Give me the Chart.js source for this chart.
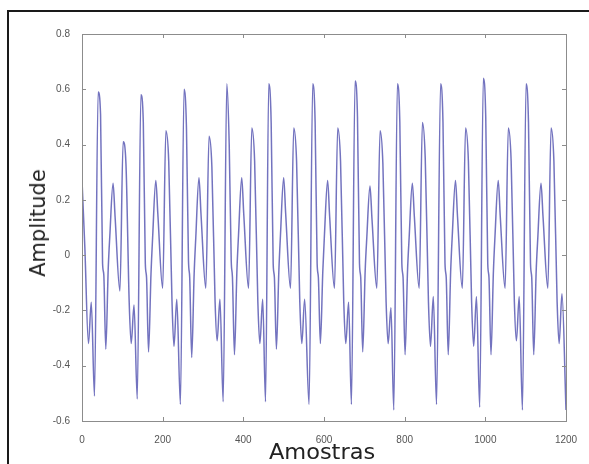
<!DOCTYPE html>
<html>
<head>
<meta charset="utf-8">
<script src="https://cdn.jsdelivr.net/npm/chart.js@4.4.1/dist/chart.umd.min.js"></script>
<style>
  html, body { margin:0; padding:0; background:#fff; overflow:hidden; }
  #wrap { position:relative; width:589px; height:464px; }
  #frame { position:absolute; left:7px; top:10px; width:600px; height:500px; border:2px solid #1a1a1a; box-sizing:border-box; }
  canvas { position:absolute; left:0; top:0; }
  .ttl { position:absolute; font-family:"DejaVu Sans", sans-serif; font-size:21px; color:#222; white-space:nowrap; }
  #ytitle { left:38px; top:223px; transform:translate(-50%,-50%) rotate(-90deg); }
  #xtitle { left:322px; top:452px; transform:translate(-50%,-50%) scaleX(1.07); }
</style>
</head>
<body>
<div id="wrap">
  <div id="frame"></div>
  <canvas id="sinal" width="589" height="464"></canvas>
  <div class="ttl" id="ytitle">Amplitude</div>
  <div class="ttl" id="xtitle">Amostras</div>
</div>
<script>
// eixos
const xTicks = [0, 200, 400, 600, 800, 1000, 1200];
const yTicks = [-0.6, -0.4, -0.2, 0, 0.2, 0.4, 0.6, 0.8];

// amostras (picos e vales de cada ciclo)
const samples = [
  0, 7, 16, 23, 31,
  40, 46, 51, 54, 59, 65, 69, 77, 82, 94, 102, 109, 117, 122, 129, 137,
  146, 152, 157, 160, 165, 171, 175, 183, 188, 200, 208, 215, 223, 228, 235, 244,
  253, 259, 264, 267, 272, 278, 282, 290, 295, 307, 315, 322, 330, 335, 342, 350,
  359, 365, 370, 373, 378, 384, 388, 396, 401, 413, 421, 428, 436, 441, 448, 455,
  463, 469, 474, 477, 482, 488, 492, 500, 505, 517, 525, 532, 540, 545, 552, 563,
  572, 578, 583, 586, 591, 597, 601, 609, 614, 626, 634, 641, 649, 654, 661, 668,
  677, 683, 688, 691, 696, 702, 706, 714, 719, 731, 739, 746, 754, 759, 766, 773,
  782, 788, 793, 796, 801, 807, 811, 819, 824, 836, 844, 851, 859, 864, 871, 879,
  889, 895, 900, 903, 908, 914, 918, 926, 931, 943, 951, 958, 966, 971, 978, 986,
  995, 1001, 1006, 1009, 1014, 1020, 1024, 1032, 1037, 1049, 1057, 1064, 1072, 1077, 1084, 1092,
  1101, 1107, 1112, 1115, 1120, 1126, 1130, 1138, 1143, 1155, 1163, 1170, 1178, 1183, 1190, 1200
];
const amplitude = [
  0.27, 0.03, -0.32, -0.17, -0.51,
  0.59, 0.51, -0.03, -0.07, -0.34, -0.05, 0.07, 0.26, 0.14, -0.13, 0.41, 0.33, -0.17, -0.32, -0.18, -0.52,
  0.58, 0.48, -0.03, -0.08, -0.35, -0.07, 0.06, 0.27, 0.15, -0.12, 0.45, 0.34, -0.16, -0.33, -0.16, -0.54,
  0.60, 0.46, -0.02, -0.08, -0.37, -0.07, 0.06, 0.28, 0.15, -0.12, 0.43, 0.32, -0.17, -0.31, -0.16, -0.53,
  0.62, 0.40, -0.02, -0.08, -0.36, -0.06, 0.07, 0.28, 0.15, -0.12, 0.46, 0.34, -0.17, -0.32, -0.16, -0.53,
  0.62, 0.48, -0.03, -0.08, -0.34, -0.06, 0.07, 0.28, 0.15, -0.12, 0.46, 0.34, -0.17, -0.32, -0.16, -0.54,
  0.62, 0.48, -0.03, -0.08, -0.32, -0.06, 0.07, 0.27, 0.14, -0.12, 0.46, 0.34, -0.17, -0.32, -0.17, -0.54,
  0.63, 0.50, -0.03, -0.08, -0.35, -0.06, 0.06, 0.25, 0.13, -0.12, 0.45, 0.33, -0.17, -0.32, -0.19, -0.56,
  0.62, 0.48, -0.03, -0.08, -0.36, -0.06, 0.06, 0.26, 0.14, -0.12, 0.48, 0.35, -0.17, -0.33, -0.15, -0.54,
  0.62, 0.48, -0.03, -0.08, -0.36, -0.06, 0.07, 0.27, 0.14, -0.12, 0.46, 0.34, -0.17, -0.33, -0.15, -0.55,
  0.64, 0.50, -0.03, -0.08, -0.36, -0.06, 0.07, 0.27, 0.14, -0.12, 0.46, 0.34, -0.17, -0.31, -0.15, -0.56,
  0.62, 0.48, -0.03, -0.08, -0.36, -0.06, 0.06, 0.26, 0.14, -0.12, 0.46, 0.34, -0.17, -0.32, -0.14, -0.56
];

const pontos = samples.map((s, i) => ({ x: s, y: amplitude[i] }));

// caixa e marcas para dentro, estilo matlab
const caixa = {
  id: 'caixa',
  afterDraw(chart) {
    const { ctx, chartArea: a, scales } = chart;
    ctx.save();
    ctx.strokeStyle = '#8c8c8c';
    ctx.lineWidth = 1;
    ctx.strokeRect(a.left + 0.5, a.top + 0.5, a.right - a.left, a.bottom - a.top);
    ctx.beginPath();
    xTicks.forEach(v => {
      const px = Math.round(scales.x.getPixelForValue(v)) + 0.5;
      ctx.moveTo(px, a.bottom); ctx.lineTo(px, a.bottom - 4);
      ctx.moveTo(px, a.top); ctx.lineTo(px, a.top + 4);
    });
    yTicks.forEach(v => {
      const py = Math.round(scales.y.getPixelForValue(v)) + 0.5;
      ctx.moveTo(a.left, py); ctx.lineTo(a.left + 4, py);
      ctx.moveTo(a.right, py); ctx.lineTo(a.right - 4, py);
    });
    ctx.stroke();
    ctx.restore();
  }
};

new Chart(document.getElementById('sinal'), {
  type: 'line',
  data: {
    datasets: [{
      data: pontos,
      borderColor: 'rgba(90,90,180,0.85)',
      borderWidth: 1.5,
      pointRadius: 0,
      cubicInterpolationMode: 'monotone',
      fill: false
    }]
  },
  options: {
    responsive: false,
    animation: false,
    layout: { padding: { left: 0, top: 34, right: 23, bottom: 0 } },
    plugins: { legend: { display: false }, tooltip: { enabled: false } },
    scales: {
      x: {
        type: 'linear', min: 0, max: 1200,
        afterBuildTicks: s => { s.ticks = xTicks.map(v => ({ value: v })); },
        afterFit: s => { s.height = 43; },
        grid: { display: false },
        border: { display: false },
        ticks: { padding: 5, color: '#555', font: { family: 'Liberation Sans', size: 10 }, maxRotation: 0, callback: v => String(v) }
      },
      y: {
        min: -0.6, max: 0.8,
        afterBuildTicks: s => { s.ticks = yTicks.map(v => ({ value: v })); },
        afterFit: s => { s.width = 82; },
        grid: { display: false },
        border: { display: false },
        ticks: { padding: 4, color: '#555', font: { family: 'Liberation Sans', size: 10 }, callback: v => String(Math.round(v * 10) / 10) }
      }
    }
  },
  plugins: [caixa]
});
</script>
</body>
</html>
